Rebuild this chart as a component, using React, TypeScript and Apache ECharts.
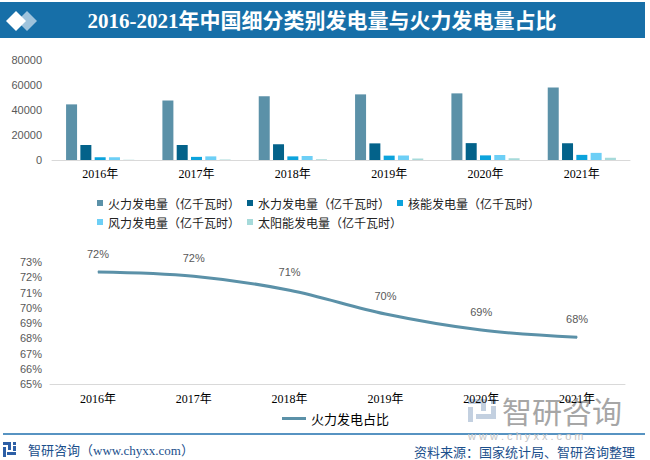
import React, { useEffect, useRef } from "react";
import * as echarts from "echarts";

const years = ["2016年", "2017年", "2018年", "2019年", "2020年", "2021年"];
const thermal = [44500, 47600, 51000, 52500, 53300, 58000];
const hydro = [12000, 12000, 12600, 13300, 13500, 13400];
const nuclear = [2200, 2500, 2900, 3500, 3700, 4100];
const wind = [2200, 2900, 3200, 3600, 4000, 5700];
const solar = [300, 400, 600, 1200, 1400, 1800];
const thermalShare = [72.35, 72.07, 71.15, 69.59, 68.54, 68.07];

const barNames = [
  "火力发电量（亿千瓦时）",
  "水力发电量（亿千瓦时）",
  "核能发电量（亿千瓦时）",
  "风力发电量（亿千瓦时）",
  "太阳能发电量（亿千瓦时）",
];
const barColors = ["#5b91a8", "#03628a", "#0ca3dc", "#6dcff6", "#a6dada"];
const barData = [thermal, hydro, nuclear, wind, solar];
const lineName = "火力发电占比";

const SANS = "'Liberation Sans', 'Noto Sans CJK SC', sans-serif";
const SERIF = "'Liberation Serif', 'Noto Sans CJK SC', serif";
const CJK = "'Noto Sans CJK SC', sans-serif";

export default function App() {
  const ref = useRef<HTMLDivElement>(null);
  useEffect(() => {
    if (!ref.current) return;
    const chart = echarts.init(ref.current, null, { renderer: "svg" });
    const barSeries = barNames.map((name, i) => ({
      name,
      type: "bar",
      xAxisIndex: 0,
      yAxisIndex: 0,
      data: barData[i],
      barWidth: 11,
      barGap: "30%",
      itemStyle: { color: barColors[i] },
    }));
    chart.setOption({
      animation: false,
      backgroundColor: "#ffffff",
      grid: [
        { left: 52, right: 20, top: 60, height: 100 },
        { left: 50, right: 25, top: 262, height: 122 },
      ],
      xAxis: [
        {
          type: "category",
          gridIndex: 0,
          data: years,
          axisLine: { lineStyle: { color: "#d9d9d9" } },
          axisTick: { show: false },
          axisLabel: { color: "#000", fontSize: 12, fontFamily: SERIF, margin: 8 },
        },
        {
          type: "category",
          gridIndex: 1,
          data: years,
          axisLine: { lineStyle: { color: "#d9d9d9" } },
          axisTick: { show: false },
          axisLabel: { color: "#000", fontSize: 12, fontFamily: SERIF, margin: 9 },
        },
      ],
      yAxis: [
        {
          type: "value",
          gridIndex: 0,
          min: 0,
          max: 80000,
          interval: 20000,
          splitLine: { show: false },
          axisLine: { show: false },
          axisTick: { show: false },
          axisLabel: {
            color: "#595959",
            fontSize: 11,
            fontFamily: SANS,
            margin: 10,
            formatter: (v: number) => String(v),
          },
        },
        {
          type: "value",
          gridIndex: 1,
          min: 65,
          max: 73,
          interval: 1,
          splitLine: { show: false },
          axisLine: { show: false },
          axisTick: { show: false },
          axisLabel: {
            color: "#595959",
            fontSize: 11,
            fontFamily: SANS,
            margin: 8,
            formatter: "{value}%",
          },
        },
      ],
      legend: [
        {
          data: barNames,
          left: 92,
          top: 192,
          width: 470,
          icon: "rect",
          itemWidth: 6,
          itemHeight: 6,
          itemGap: 7,
          textStyle: { color: "#222", fontSize: 12, fontFamily: CJK },
        },
        {
          data: [lineName],
          left: 277,
          top: 407,
          icon: "rect",
          itemWidth: 24,
          itemHeight: 3,
          textStyle: { color: "#000", fontSize: 13, fontFamily: CJK },
        },
      ],
      series: [
        ...barSeries,
        {
          name: lineName,
          type: "line",
          xAxisIndex: 1,
          yAxisIndex: 1,
          data: thermalShare,
          smooth: 0.35,
          showSymbol: true,
          symbol: "circle",
          symbolSize: 1,
          lineStyle: { color: "#5b91a8", width: 3 },
          itemStyle: { color: "#5b91a8" },
          label: {
            show: true,
            position: "top",
            distance: 12,
            color: "#595959",
            fontSize: 11,
            fontFamily: SANS,
            formatter: (p: any) => Math.round(p.value) + "%",
          },
        },
      ],
      graphic: [
        { type: "rect", shape: { x: 0, y: 2, width: 645, height: 36 }, style: { fill: "#176fa8" } },
        {
          type: "polygon",
          shape: { points: [[27, 11], [37, 21], [27, 31], [17, 21]] },
          style: { fill: "#9fc3dc" },
        },
        {
          type: "polygon",
          shape: { points: [[16, 11], [26, 21], [16, 31], [6, 21]] },
          style: { fill: "#ffffff" },
        },
        {
          type: "text",
          x: 322,
          y: 21,
          style: {
            text: "2016-2021年中国细分类别发电量与火力发电量占比",
            fill: "#ffffff",
            font: "bold 21px 'Liberation Serif', 'Noto Sans CJK SC', serif",
            align: "center",
            verticalAlign: "middle",
          },
        },
        // watermark logo bottom-right
        { type: "rect", shape: { x: 468, y: 399, width: 18, height: 5 }, style: { fill: "#c3d0e0" } },
        { type: "rect", shape: { x: 481, y: 399, width: 5, height: 12 }, style: { fill: "#c3d0e0" } },
        { type: "rect", shape: { x: 468, y: 407, width: 5, height: 15 }, style: { fill: "#c3d0e0" } },
        { type: "rect", shape: { x: 476, y: 414, width: 20, height: 5 }, style: { fill: "#c3d0e0" } },
        { type: "rect", shape: { x: 491, y: 399, width: 5, height: 5 }, style: { fill: "#a9bdd6" } },
        { type: "rect", shape: { x: 491, y: 406, width: 5, height: 10 }, style: { fill: "#c3d0e0" } },
        {
          type: "text",
          x: 502,
          y: 410,
          style: {
            text: "智研咨询",
            fill: "#a6a6a6",
            font: "30px 'Noto Sans CJK SC', sans-serif",
            verticalAlign: "middle",
          },
        },
        // separator line
        { type: "line", shape: { x1: 3, y1: 434, x2: 645, y2: 434 }, style: { stroke: "#1f6fae", lineWidth: 1.5 } },
        {
          type: "text",
          x: 468,
          y: 436,
          style: {
            text: "w w w . c h y x x . c o m",
            fill: "#c4c4c4",
            font: "11px 'Liberation Sans', sans-serif",
            verticalAlign: "middle",
          },
        },
        // footer logo
        { type: "rect", shape: { x: 3, y: 442, width: 8, height: 3 }, style: { fill: "#2d5fa6" } },
        { type: "rect", shape: { x: 8, y: 442, width: 3, height: 8 }, style: { fill: "#2d5fa6" } },
        { type: "rect", shape: { x: 3, y: 447, width: 3, height: 10 }, style: { fill: "#2d5fa6" } },
        { type: "rect", shape: { x: 7, y: 452, width: 9, height: 3 }, style: { fill: "#2d5fa6" } },
        { type: "rect", shape: { x: 13, y: 442, width: 3, height: 3 }, style: { fill: "#2d5fa6" } },
        { type: "rect", shape: { x: 13, y: 446, width: 3, height: 5 }, style: { fill: "#2d5fa6" } },
        {
          type: "text",
          x: 28,
          y: 450,
          style: {
            text: "智研咨询（www.chyxx.com）",
            fill: "#1b4f8c",
            font: "13px 'Liberation Serif', 'Noto Sans CJK SC', serif",
            verticalAlign: "middle",
          },
        },
        {
          type: "text",
          x: 635,
          y: 451,
          style: {
            text: "资料来源：国家统计局、智研咨询整理",
            fill: "#1b4f8c",
            font: "13px 'Noto Sans CJK SC', sans-serif",
            align: "right",
            verticalAlign: "middle",
          },
        },
      ],
    });
    return () => chart.dispose();
  }, []);
  return (
    <div
      ref={ref}
      style={{ position: "absolute", left: 0, top: 0, width: 650, height: 460 }}
    />
  );
}
